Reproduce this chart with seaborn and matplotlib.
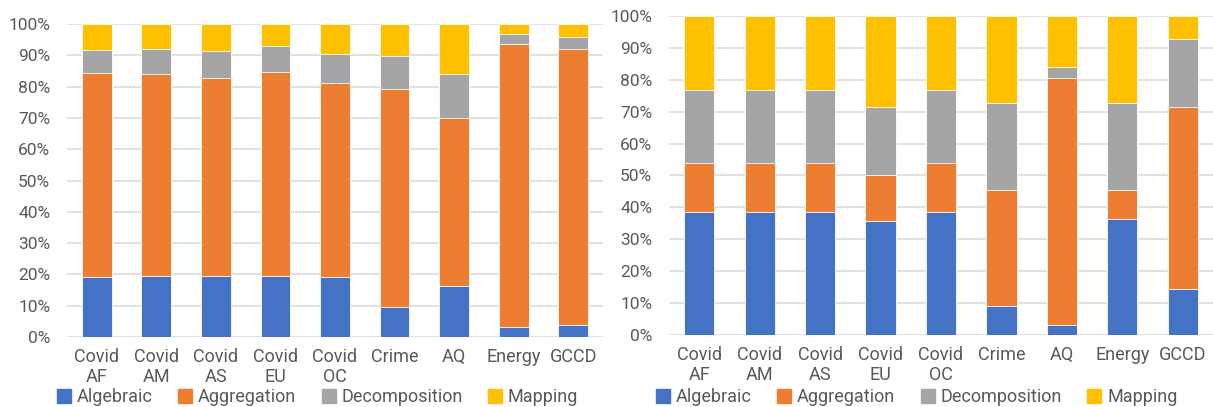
import numpy as np
import pandas as pd
import matplotlib
matplotlib.use("Agg")
import matplotlib.pyplot as plt
from matplotlib.lines import Line2D
import seaborn as sns

# Dataset names shown on the x axis
categories = ["Covid\nAF", "Covid\nAM", "Covid\nAS", "Covid\nEU", "Covid\nOC",
              "Crime", "AQ", "Energy", "GCCD"]
operators = ["Algebraic", "Aggregation", "Decomposition", "Mapping"]

# Share of each operator type (%) — left panel
algebraic_left = [19.1, 19.4, 19.6, 19.4, 19.1, 9.7, 16.3, 3.1, 3.7]
aggregation_left = [65.2, 64.7, 63.3, 65.4, 61.9, 69.5, 53.6, 90.6, 88.4]
decomposition_left = [7.5, 7.8, 8.5, 8.3, 9.5, 10.6, 14.2, 3.2, 3.8]
mapping_left = [8.2, 8.1, 8.6, 6.9, 9.5, 10.2, 15.9, 3.1, 4.1]

# Share of each operator type (%) — right panel
algebraic_right = [38.5, 38.5, 38.5, 35.7, 38.5, 9.1, 3.2, 36.4, 14.3]
aggregation_right = [15.4, 15.4, 15.4, 14.3, 15.4, 36.4, 77.4, 9.1, 57.1]
decomposition_right = [23.1, 23.1, 23.1, 21.4, 23.1, 27.3, 3.2, 27.3, 21.4]
mapping_right = [23.1, 23.1, 23.1, 28.6, 23.1, 27.3, 16.1, 27.3, 7.1]

colors = ["#4472C4", "#ED7D31", "#A5A5A5", "#FFC000"]
text_color = "#595959"
grid_color = "#D9D9D9"

sns.set_theme(style="white")
plt.rcParams["font.family"] = ["Roboto", "DejaVu Sans"]

fig = plt.figure(figsize=(12.13, 4.07), dpi=100)
ax_left = fig.add_axes([0.0552, 0.172, 0.4419, 0.769])
ax_right = fig.add_axes([0.5515, 0.1769, 0.4485, 0.7838])


def stacked_percent(ax, series):
    values = np.array(series, dtype=float)
    shares = values / values.sum(axis=0) * 100.0
    cumulative = np.cumsum(shares, axis=0)
    # draw from the top segment down so each lower segment overlays the one above
    for i in range(len(operators) - 1, -1, -1):
        df = pd.DataFrame({"dataset": categories, "value": cumulative[i]})
        sns.barplot(data=df, x="dataset", y="value", ax=ax, color=colors[i],
                    width=0.5, saturation=1, edgecolor="white", linewidth=0.6,
                    zorder=3)
    ax.set_ylim(0, 100)
    ax.set_xlim(-0.5, len(categories) - 0.5)
    ax.set_yticks(np.arange(0, 101, 10))
    ax.set_yticklabels([f"{v}%" for v in range(0, 101, 10)])
    ax.yaxis.grid(True, color=grid_color, linewidth=1.1, zorder=0)
    ax.set_axisbelow(True)
    for s in ax.spines.values():
        s.set_visible(False)
    ax.set_xlabel("")
    ax.set_ylabel("")
    ax.tick_params(axis="y", length=0, pad=12, labelsize=12.5, labelcolor=text_color)
    ax.tick_params(axis="x", length=0, pad=8, labelsize=13, labelcolor=text_color)
    for lbl in ax.get_xticklabels():
        lbl.set_linespacing(1.1)


stacked_percent(ax_left, [algebraic_left, aggregation_left,
                          decomposition_left, mapping_left])
stacked_percent(ax_right, [algebraic_right, aggregation_right,
                           decomposition_right, mapping_right])

handles = [Line2D([0], [0], marker="s", linestyle="none", markersize=10,
                  markerfacecolor=c, markeredgecolor=c) for c in colors]

for ax, x0 in [(ax_left, 0.047), (ax_right, 0.541)]:
    fig.legend(handles, operators, loc="center left", bbox_to_anchor=(x0, 0.025),
               ncol=4, frameon=False, fontsize=13, labelcolor=text_color,
               handlelength=0.8, handletextpad=0.3, columnspacing=1.4,
               borderaxespad=0, borderpad=0)

fig.savefig("out.png", dpi=100)
